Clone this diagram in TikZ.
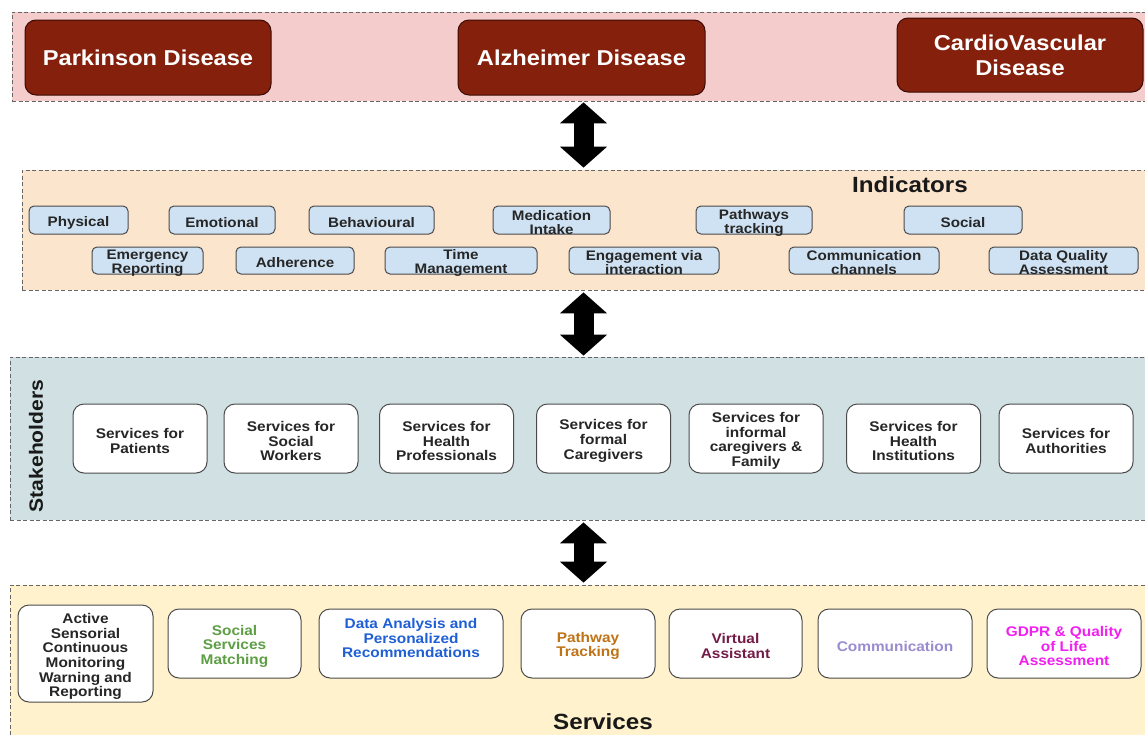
\documentclass[tikz,border=0pt]{standalone}
\usepackage{fontspec}
\setmainfont{Liberation Sans}[FakeStretch=1.1]
\usetikzlibrary{arrows.meta}
\definecolor{bandpink}{HTML}{F4CCCC}
\definecolor{bandpeach}{HTML}{FCE5CD}
\definecolor{bandblue}{HTML}{D0E0E3}
\definecolor{bandyellow}{HTML}{FFF2CC}
\definecolor{disred}{HTML}{85200C}
\definecolor{disborder}{HTML}{3A0A04}
\definecolor{indblue}{HTML}{CFE2F3}
\definecolor{boxborder}{HTML}{4A4A4A}
\definecolor{txtdark}{HTML}{262626}
\definecolor{txtgreen}{HTML}{5E9E45}
\definecolor{txtblue}{HTML}{1F5FD6}
\definecolor{txtorange}{HTML}{BF7316}
\definecolor{txtplum}{HTML}{741B47}
\definecolor{txtlav}{HTML}{9A8CCF}
\definecolor{txtmag}{HTML}{F020F0}
% box with its text: #1 box style, #2 name, #3 position, #4 text style, #5 text
\newcommand\mybox[5]{%
  \node[#1] (#2) at (#3) {};
  \node[#4] (#2t) at ([yshift=-2.5pt]#2.center) {#5};}
\begin{document}
\begin{tikzpicture}[x=1pt,y=-1pt,
  band/.style={draw=gray!80!black, dashed, dash pattern=on 4pt off 2.5pt, line width=0.7pt, inner sep=0pt},
  disease/.style={draw=disborder, line width=1pt, fill=disred, rounded corners=11pt, inner sep=0pt,
    text=white, align=center, font=\fontsize{21.5}{25}\selectfont\bfseries, minimum height=75pt},
  indbox/.style={draw=boxborder, line width=1pt, fill=indblue, rounded corners=5pt, inner sep=0pt},
  indtxt/.style={align=center, inner sep=0pt, font=\fontsize{13.8}{14}\selectfont\bfseries, text=txtdark},
  stbox/.style={draw=boxborder, line width=1pt, fill=white, rounded corners=11pt, inner sep=0pt,
    minimum width=134pt, minimum height=69pt},
  sttxt/.style={align=center, inner sep=0pt, font=\fontsize{14}{14.6}\selectfont\bfseries, text=txtdark},
  title/.style={font=\fontsize{22}{24}\selectfont\bfseries, text=black!90, inner sep=0pt},
  bigarrow/.style={line width=20pt, {Triangle[width=46pt,length=21pt]}-{Triangle[width=46pt,length=21pt]}}
]
\clip (0,0) rectangle (1145,734);
\fill[white] (0,0) rectangle (1145,734);

% bands
\node[band, fill=bandpink, minimum width=1140pt, minimum height=89pt] (b1) at (582,56.5) {};
\node[band, fill=bandpeach, minimum width=1130pt, minimum height=120pt] (b2) at (587,230) {};
\node[band, fill=bandblue, minimum width=1142pt, minimum height=163pt] (b3) at (581,438.5) {};
\node[band, fill=bandyellow, minimum width=1142pt, minimum height=170pt] (b4) at (581,670) {};

% arrows
\coordinate (ax) at (583.5,0);
\draw[bigarrow] ([yshift=-1pt]b1.south -| ax) -- ([yshift=2pt]b2.north -| ax);
\draw[bigarrow] ([yshift=-2pt]b2.south -| ax) -- ([yshift=1pt]b3.north -| ax);
\draw[bigarrow] ([yshift=-2pt]b3.south -| ax) -- ([yshift=2pt]b4.north -| ax);

% diseases
\node[disease, minimum width=246pt] (pd) at (148,57.5) {Parkinson Disease};
\node[disease, minimum width=247pt] (ad) at (581.5,57.5) {Alzheimer Disease};
\node[disease, minimum width=246pt, minimum height=74pt] (cd) at (1020,55) {CardioVascular\\Disease};

% indicators
\node[title] (indt) at (910,185) {Indicators};
\mybox{indbox, minimum width=99pt, minimum height=28pt}{i1}{78.5,220}{indtxt}{Physical}
\mybox{indbox, minimum width=106pt, minimum height=28pt}{i2}{222,220}{indtxt}{Emotional}
\mybox{indbox, minimum width=125pt, minimum height=28pt}{i3}{371.5,220}{indtxt}{Behavioural}
\mybox{indbox, minimum width=117pt, minimum height=28pt}{i4}{551.5,220}{indtxt}{Medication\\Intake}
\mybox{indbox, minimum width=116pt, minimum height=28pt}{i5}{754,220}{indtxt}{Pathways\\tracking}
\mybox{indbox, minimum width=118pt, minimum height=28pt}{i6}{963,220}{indtxt}{Social}
\mybox{indbox, minimum width=111pt, minimum height=27pt}{i7}{147.5,260.5}{indtxt}{Emergency\\Reporting}
\mybox{indbox, minimum width=118pt, minimum height=27pt}{i8}{295,260.5}{indtxt}{Adherence}
\mybox{indbox, minimum width=152pt, minimum height=27pt}{i9}{461,260.5}{indtxt}{Time\\Management}
\mybox{indbox, minimum width=150pt, minimum height=27pt}{i10}{644,260.5}{indtxt}{Engagement via\\interaction}
\mybox{indbox, minimum width=150pt, minimum height=27pt}{i11}{864,260.5}{indtxt}{Communication\\channels}
\mybox{indbox, minimum width=149pt, minimum height=27pt}{i12}{1063.5,260.5}{indtxt}{Data Quality\\Assessment}

% stakeholders
\node[title, rotate=90, font=\fontsize{19.2}{22}\selectfont\bfseries] (stt) at (36,446) {Stakeholders};
\mybox{stbox}{s1}{140,438.5}{sttxt}{Services for\\Patients}
\mybox{stbox}{s2}{291,438.5}{sttxt}{Services for\\Social\\Workers}
\mybox{stbox}{s3}{446.5,438.5}{sttxt}{Services for\\Health\\Professionals}
\mybox{stbox}{s4}{603.5,438.5}{sttxt}{Services for\\formal\\Caregivers}
\mybox{stbox}{s5}{756,438.5}{sttxt}{Services for\\informal\\caregivers \&\\Family}
\mybox{stbox}{s6}{913.5,438.5}{sttxt}{Services for\\Health\\Institutions}
\mybox{stbox}{s7}{1066,438.5}{sttxt}{Services for\\Authorities}

% services
\mybox{stbox, minimum width=135pt, minimum height=97pt}{v1}{85.5,653.5}{sttxt, yshift=-0.5pt}{Active\\Sensorial\\Continuous\\Monitoring\\Warning and\\Reporting}
\mybox{stbox, minimum width=133pt}{v2}{234.5,643.5}{sttxt, text=txtgreen}{Social\\Services\\Matching}
\mybox{stbox, minimum width=184pt}{v3}{411,643.5}{sttxt, text=txtblue, yshift=8pt}{Data Analysis and\\Personalized\\Recommendations}
\mybox{stbox, minimum width=134pt}{v4}{588,643.5}{sttxt, text=txtorange}{Pathway\\Tracking}
\mybox{stbox, minimum width=133pt}{v5}{735.5,643.5}{sttxt, text=txtplum}{Virtual\\Assistant}
\mybox{stbox, minimum width=154pt}{v6}{895,643.5}{sttxt, text=txtlav}{Communication}
\mybox{stbox, minimum width=154pt}{v7}{1064,643.5}{sttxt, text=txtmag}{GDPR \& Quality\\of Life\\Assessment}
\node[title] (svt) at (603,722) {Services};
\end{tikzpicture}
\end{document}
